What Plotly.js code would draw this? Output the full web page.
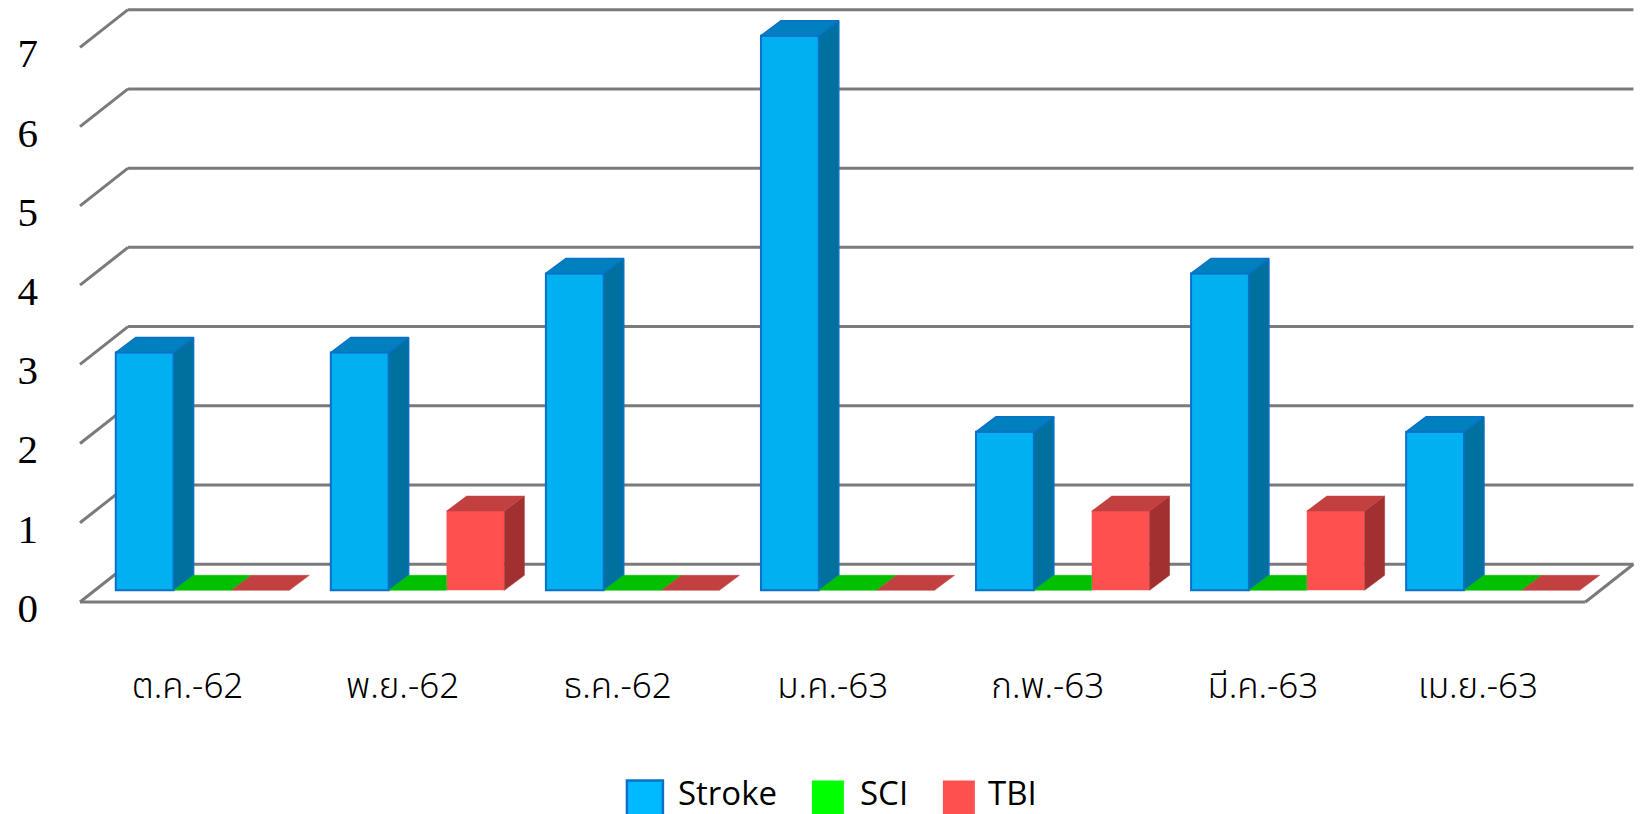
<!DOCTYPE html>
<html><head><meta charset="utf-8">
<script src="https://cdn.plot.ly/plotly-3.0.1.min.js"></script>
<style>html,body{margin:0;padding:0;background:#fff}</style>
</head><body><div id="chart" style="width:1640px;height:814px"></div>
<script>
// ---- data ----
const categories = ['ต.ค.-62','พ.ย.-62','ธ.ค.-62','ม.ค.-63','ก.พ.-63','มี.ค.-63','เม.ย.-63'];
const stroke = [3,3,4,7,2,4,2];
const sci    = [0,0,0,0,0,0,0];
const tbi    = [0,1,0,0,1,1,0];
const seriesNames = ['Stroke','SCI','TBI'];
const yTickValues = [0,1,2,3,4,5,6,7];

// ---- styles / geometry ----
const W=1640, H=814;
const catPx=215.1, unitPx=79.2;
const xmin=-0.7, xmax=6.67, ymin=-0.4, ymax=7.4;
const ml = 95 - 0.2*catPx;
const plotW = (xmax-xmin)*catPx;
const mr = Math.max(0, W-ml-plotW);
const mt = 590 - ymax*unitPx;
const plotH = (ymax-ymin)*unitPx;
const mb = H - mt - plotH;
const bargap = 0.193;
const barW = (1-bargap)/3;
const dx = 20/catPx, dy = 15/unitPx;            // bar depth
const backDx = 33/catPx, backDy = 26/unitPx;    // back wall offset
const frontDx = -15/catPx, frontDy = -11.7/unitPx; // front floor edge offset
const gridColor = '#7a7a7a';

const styles = [
  {front:'#00B0F0', side:'#00709E', top:'#0080BF', line:'#0A70C8', lw:2, legend:'#00BAFF'},
  {front:'#00C000', side:'#009000', top:'#00C000', line:'#00C000', lw:0, legend:'#00FF00'},
  {front:'#FF5050', side:'#A33030', top:'#C2403F', line:'#FF5050', lw:0, legend:'#FF5050'}
];
const seriesData = [stroke, sci, tbi];
const idx = categories.map((_,i)=>i);

const traces = [];
// front faces as real bars
seriesData.forEach((vals,k)=>{
  traces.push({type:'bar', name:seriesNames[k], x:idx, y:vals,
    marker:{color:styles[k].front, line:{color:styles[k].line, width:styles[k].lw}},
    showlegend:false, hoverinfo:'x+y+name'});
});
// 3D faces (side + top) derived from the same values
seriesData.forEach((vals,k)=>{
  const sx=[], sy=[], tx=[], ty=[];
  vals.forEach((v,i)=>{
    const c = i + (k-1)*barW;
    const x0 = c - barW/2, x1 = c + barW/2;
    const right = (k<2) ? seriesData[k+1][i] : 0;
    const hidden = right > 0 && right >= v + dy; // right neighbour hides the part beyond x1
    if (v > 0) {
      sx.push(x1, x1+dx, x1+dx, x1, x1, null);
      sy.push(0, dy, v+dy, v, 0, null);
    }
    if (hidden) {
      tx.push(x0, x1, x1, x0+dx, x0, null);
      ty.push(v, v, v+dy, v+dy, v, null);
    } else {
      tx.push(x0, x1, x1+dx, x0+dx, x0, null);
      ty.push(v, v, v+dy, v+dy, v, null);
    }
  });
  if (sx.length) traces.push({type:'scatter', mode:'lines', x:sx, y:sy, fill:'toself',
    fillcolor:styles[k].side, line:{color:styles[k].lw?styles[k].line:styles[k].side, width:styles[k].lw?1.5:0.5},
    hoverinfo:'skip', showlegend:false});
  traces.push({type:'scatter', mode:'lines', x:tx, y:ty, fill:'toself',
    fillcolor:styles[k].top, line:{color:styles[k].lw?styles[k].line:styles[k].top, width:styles[k].lw?1.5:0.5},
    hoverinfo:'skip', showlegend:false});
});

// gridlines / walls as shapes below traces
const shapes = [];
const L = -0.5, R = categories.length - 0.5;
yTickValues.forEach(v=>{
  shapes.push({type:'line', xref:'x', yref:'y', layer:'below',
    x0:L+frontDx, y0:v+frontDy, x1:L+backDx, y1:v+backDy, line:{color:gridColor,width:3}});
  shapes.push({type:'line', xref:'x', yref:'y', layer:'below',
    x0:L+backDx, y0:v+backDy, x1:R+backDx, y1:v+backDy, line:{color:gridColor,width:3}});
});
shapes.push({type:'line', xref:'x', yref:'y', layer:'below',
  x0:L+frontDx, y0:frontDy, x1:R+frontDx, y1:frontDy, line:{color:gridColor,width:3}});
shapes.push({type:'line', xref:'x', yref:'y', layer:'below',
  x0:R+frontDx, y0:frontDy, x1:R+backDx, y1:backDy, line:{color:gridColor,width:3}});

// custom legend (large swatches)
const px2x = p => (p - ml)/plotW;
const px2y = p => (mt + plotH - p)/plotH;
const legendItems = [
  {sx0:627, sx1:663, tx:676},
  {sx0:812, sx1:844, tx:858},
  {sx0:943, sx1:975, tx:986}
];
const annotations = [];
legendItems.forEach((it,k)=>{
  shapes.push({type:'rect', xref:'paper', yref:'paper', layer:'above',
    x0:px2x(it.sx0), x1:px2x(it.sx1), y0:px2y(780), y1:px2y(816),
    fillcolor:styles[k].legend, line:{color:k===0?'#0A70C8':styles[k].legend, width:k===0?2.5:0}});
  annotations.push({xref:'paper', yref:'paper', x:px2x(it.tx), y:px2y(792),
    xanchor:'left', yanchor:'middle', showarrow:false, text:seriesNames[k],
    font:{family:'Open Sans, sans-serif', size:33, color:'#000'}});
});

const layout = {
  width:W, height:H,
  margin:{l:ml, r:mr, t:mt, b:mb, pad:0},
  paper_bgcolor:'#ffffff', plot_bgcolor:'rgba(0,0,0,0)',
  barmode:'group', bargap:bargap, bargroupgap:0,
  showlegend:false,
  xaxis:{range:[xmin,xmax], showgrid:false, zeroline:false, showline:false,
    tickmode:'array', tickvals:idx.map(i=>i+frontDx), ticktext:categories, ticks:'',
    ticklabelstandoff:40,
    tickfont:{family:'Noto Sans Thai, Tahoma, Leelawadee UI, Noto Sans, sans-serif', size:35, color:'#000', weight:300}},
  yaxis:{range:[ymin,ymax], showgrid:false, zeroline:false, showline:false,
    tickmode:'array', tickvals:yTickValues.map(v=>v+frontDy-0.07), ticktext:yTickValues.map(String), ticks:'',
    ticklabelstandoff:13,
    tickfont:{family:'Liberation Serif, DejaVu Serif, serif', size:41, color:'#000'}},
  shapes:shapes, annotations:annotations
};
Plotly.newPlot('chart', traces, layout, {displayModeBar:false, staticPlot:true});
</script>
</body></html>
